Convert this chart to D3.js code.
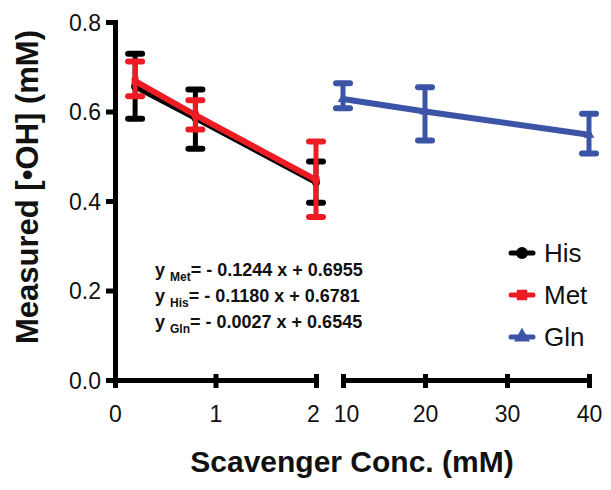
<!DOCTYPE html>
<html><head><meta charset="utf-8">
<script src="https://cdn.jsdelivr.net/npm/d3@7"></script>
<style>
html,body{margin:0;padding:0;background:#fff;}
svg{display:block;font-family:"Liberation Sans",Arial,sans-serif;}
</style></head>
<body>
<svg id="chart" width="611" height="490"></svg>
<script>
// ---- data ----
const lowX = [0.2, 0.8, 2];
const hisMean = [0.656, 0.586, 0.442];
const hisLo   = [0.584, 0.517, 0.396];
const hisHi   = [0.729, 0.649, 0.488];
const metMean = [0.668, 0.592, 0.447];
const metLo   = [0.634, 0.560, 0.364];
const metHi   = [0.712, 0.625, 0.533];
const highX = [10, 20, 40];
const glnMean = [0.628, 0.600, 0.548];
const glnLo   = [0.607, 0.535, 0.506];
const glnHi   = [0.663, 0.654, 0.595];
const yTicks = [0, 0.2, 0.4, 0.6, 0.8];
const xTicksLow = [0, 1, 2];
const xTicksHigh = [10, 20, 30, 40];
const seriesNames = ["His", "Met", "Gln"];
const seriesColors = ["#000000", "#ed1c24", "#3b54a5"];
const equations = [
  {sub: "Met", text: "= - 0.1244 x + 0.6955"},
  {sub: "His", text: "= - 0.1180 x + 0.6781"},
  {sub: "Gln", text: "= - 0.0027 x + 0.6545"}
];

// ---- scales ----
const svg = d3.select("#chart");
const y = d3.scaleLinear().domain([0, 0.8]).range([380, 22]);
const xL = d3.scaleLinear().domain([0, 2]).range([115, 316]);
const xR = d3.scaleLinear().domain([10, 40]).range([343, 589]);

// ---- axes ----
function styleAxis(g) {
  g.select(".domain").attr("stroke", "#000").attr("stroke-width", 5).attr("stroke-linecap", "square");
  g.selectAll(".tick line").attr("stroke", "#000").attr("stroke-width", 5);
  g.selectAll(".tick text").attr("fill", "#111").style("font-size", "23px").style("font-family", "'Liberation Sans',Arial,sans-serif");
}
const yAxis = svg.append("g").attr("transform", "translate(115,0)")
  .call(d3.axisLeft(y).tickValues(yTicks).tickFormat(d3.format(".1f")).tickSize(9).tickSizeOuter(0).tickPadding(5));
styleAxis(yAxis);
yAxis.selectAll(".tick text").attr("dy", "0.36em");

const xAxisL = svg.append("g").attr("transform", "translate(0,380)")
  .call(d3.axisBottom(xL).tickValues(xTicksLow).tickFormat(d3.format("d")).tickSize(8).tickSizeOuter(0).tickPadding(18));
styleAxis(xAxisL);
xAxisL.selectAll(".tick line").attr("y1", -6);
const xAxisR = svg.append("g").attr("transform", "translate(0,380)")
  .call(d3.axisBottom(xR).tickValues(xTicksHigh).tickFormat(d3.format("d")).tickSize(8).tickSizeOuter(0).tickPadding(18));
styleAxis(xAxisR);
xAxisR.selectAll(".tick line").attr("y1", -6);
xAxisL.selectAll(".domain").attr("stroke-linecap", "butt");
xAxisR.selectAll(".domain").attr("stroke-linecap", "butt");
xAxisL.selectAll(".tick text").filter(d => d === 2).attr("dx", -3);
xAxisR.selectAll(".tick text").filter(d => d === 10).attr("dx", 3);

// ---- axis titles ----
svg.append("text").attr("x", 352).attr("y", 472).attr("text-anchor", "middle")
  .style("font-size", "30px").style("font-weight", "bold").attr("fill", "#111")
  .text("Scavenger Conc. (mM)");
svg.append("text").attr("transform", "translate(38,187) rotate(-90)").attr("text-anchor", "middle")
  .style("font-size", "31px").style("font-weight", "bold").attr("fill", "#111")
  .text("Measured [•OH] (mM)");

// ---- series ----
const series = [
  {name: "His", xs: lowX, sx: xL, mean: hisMean, lo: hisLo, hi: hisHi, color: seriesColors[0], shape: d3.symbolCircle},
  {name: "Met", xs: lowX, sx: xL, mean: metMean, lo: metLo, hi: metHi, color: seriesColors[1], shape: d3.symbolSquare},
  {name: "Gln", xs: highX, sx: xR, mean: glnMean, lo: glnLo, hi: glnHi, color: seriesColors[2], shape: d3.symbolTriangle}
];
const line = d3.line();
series.forEach(s => {
  const g = svg.append("g");
  const pts = s.xs.map((xv, i) => [s.sx(xv), y(s.mean[i])]);
  g.append("path").attr("d", line(pts)).attr("fill", "none").attr("stroke", s.color)
    .attr("stroke-width", 6).attr("stroke-linecap", "round");
  s.xs.forEach((xv, i) => {
    const cx = s.sx(xv);
    g.append("line").attr("x1", cx).attr("x2", cx).attr("y1", y(s.lo[i])).attr("y2", y(s.hi[i]))
      .attr("stroke", s.color).attr("stroke-width", 5);
    [s.lo[i], s.hi[i]].forEach(v => {
      g.append("line").attr("x1", cx - 7).attr("x2", cx + 7).attr("y1", y(v)).attr("y2", y(v))
        .attr("stroke", s.color).attr("stroke-width", 6).attr("stroke-linecap", "round");
    });
    g.append("path").attr("transform", `translate(${cx},${y(s.mean[i])})`)
      .attr("d", d3.symbol().type(s.shape).size(50)()).attr("fill", s.color);
  });
});

// ---- equations ----
equations.forEach((e, i) => {
  const t = svg.append("text").attr("x", 155).attr("y", 276 + i * 26)
    .style("font-weight", "bold").attr("fill", "#111").style("font-size", "18px");
  t.append("tspan").text("y ");
  t.append("tspan").attr("dy", 5).style("font-size", "12px").text(e.sub);
  t.append("tspan").attr("dy", -5).text(e.text);
});

// ---- legend ----
series.forEach((s, i) => {
  const ly = 253 + i * 42;
  const g = svg.append("g").attr("transform", `translate(522,${ly})`);
  g.append("line").attr("x1", -11).attr("x2", 11).attr("stroke", s.color).attr("stroke-width", 5).attr("stroke-linecap", "round");
  g.append("path").attr("d", d3.symbol().type(s.shape).size(110)()).attr("fill", s.color);
  g.append("text").attr("x", 22).attr("y", 0).attr("dy", "0.36em").style("font-size", "26px").attr("fill", "#111").text(s.name);
});
</script>
</body></html>
